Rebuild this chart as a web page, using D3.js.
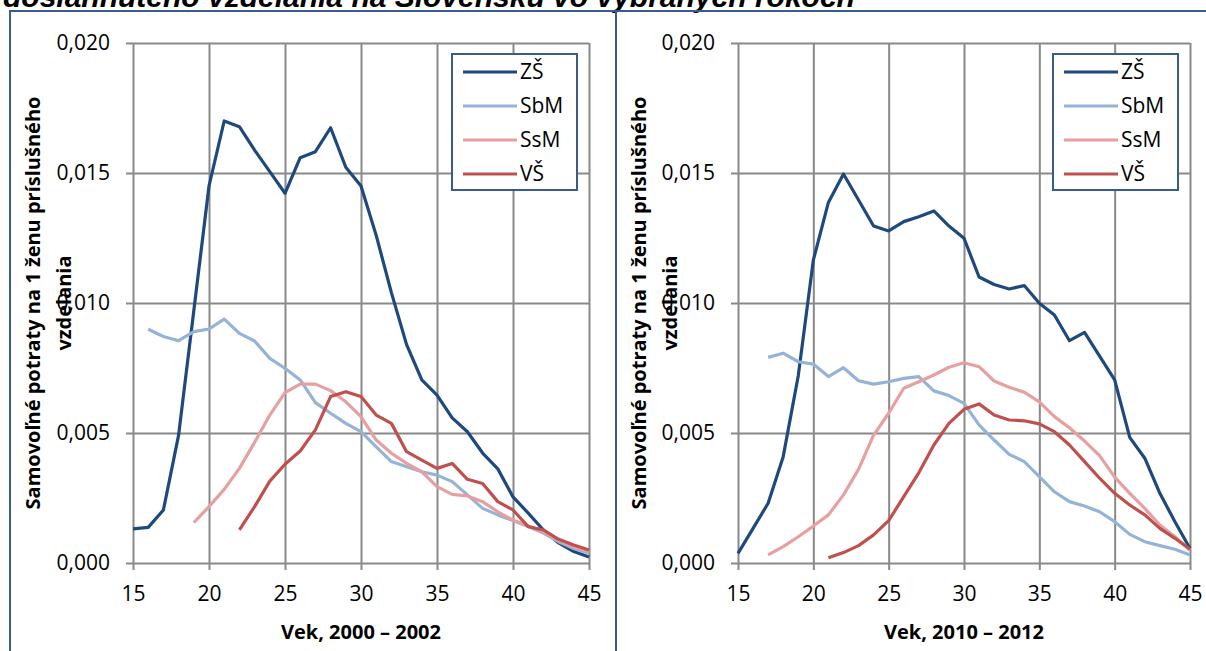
<!DOCTYPE html>
<html>
<head>
<meta charset="utf-8">
<script src="https://cdn.jsdelivr.net/npm/d3@7"></script>
<style>
body { margin: 0; background: #fff; }
text { font-family: "Open Sans", sans-serif; fill: #000; }
</style>
</head>
<body>
<svg id="chart" width="1206" height="651"></svg>
<script>
// vek (x categories)
const ages = [15,16,17,18,19,20,21,22,23,24,25,26,27,28,29,30,31,32,33,34,35,36,37,38,39,40,41,42,43,44,45];
const seriesNames = ['ZŠ', 'SbM', 'SsM', 'VŠ'];
const yTicks = [0, 0.005, 0.010, 0.015, 0.020];
const xTicks = [15, 20, 25, 30, 35, 40, 45];

// 2000 - 2002
const zs2000 = [0.00131,0.00137,0.00204,0.00492,0.0097,0.0145,0.0170,0.01678,0.01588,0.01505,0.01422,0.01559,0.01582,0.01674,0.01522,0.0145,0.0126,0.0104,0.0084,0.00704,0.00646,0.00558,0.00505,0.00423,0.00362,0.00254,0.00192,0.00127,0.00077,0.00044,0.00023];
const sbm2000 = [null,0.00899,0.00871,0.00855,0.0089,0.0090,0.00938,0.00883,0.00854,0.00787,0.00749,0.00704,0.00617,0.00576,0.00537,0.00505,0.00447,0.0039,0.0037,0.00351,0.00338,0.00313,0.00262,0.0021,0.00185,0.00163,0.0014,0.00115,0.00082,0.00056,0.00038];
const ssm2000 = [null,null,null,null,0.00155,0.00217,0.00283,0.00364,0.00464,0.00569,0.00655,0.00688,0.00688,0.00663,0.0062,0.00563,0.00473,0.00422,0.00383,0.00351,0.00294,0.00264,0.00258,0.00236,0.00197,0.00165,0.00142,0.0012,0.00088,0.00063,0.00043];
const vs2000 = [null,null,null,null,null,null,null,0.00127,0.00217,0.00315,0.0038,0.00431,0.00512,0.0064,0.00659,0.0064,0.00569,0.00537,0.00428,0.00396,0.00364,0.00383,0.00322,0.00306,0.00236,0.00204,0.0014,0.00127,0.00091,0.00069,0.0005];

// 2010 - 2012
const zs2010 = [0.00037,0.00133,0.0023,0.00409,0.0072,0.01165,0.01387,0.01496,0.01396,0.01296,0.01277,0.01313,0.01332,0.01354,0.01296,0.01249,0.011,0.01071,0.01054,0.01067,0.00999,0.00954,0.00855,0.00887,0.00796,0.00704,0.00483,0.00403,0.00268,0.00159,0.00056];
const sbm2010 = [null,null,0.00791,0.00807,0.00774,0.00765,0.00717,0.00751,0.00701,0.00688,0.00697,0.0071,0.00717,0.00662,0.00644,0.00614,0.00531,0.00473,0.00418,0.0039,0.00332,0.00274,0.00236,0.00219,0.00197,0.00159,0.0011,0.00082,0.00067,0.00053,0.00031];
const ssm2010 = [null,null,0.00031,0.00063,0.00101,0.00142,0.00185,0.00262,0.0036,0.00492,0.00576,0.00672,0.00697,0.00723,0.00753,0.0077,0.00755,0.007,0.00676,0.00657,0.0062,0.00563,0.0052,0.00469,0.00413,0.0033,0.00268,0.0021,0.00146,0.00101,0.0005];
const vs2010 = [null,null,null,null,null,null,0.0002,0.0004,0.00067,0.00108,0.00163,0.00255,0.00347,0.00454,0.00537,0.00591,0.00612,0.00569,0.0055,0.00547,0.00535,0.00505,0.00454,0.0039,0.00326,0.00268,0.00223,0.00185,0.00133,0.00095,0.00053];

const colors = ['#1f497d', '#95b3d7', '#e6a0a0', '#c0504d'];
const frame = '#385d8a';
const gridColor = '#898989';

const svg = d3.select('#chart');

// title (cut at top edge, as in the source)
svg.append('text')
    .attr('x', 3).attr('y', 7)
    .style('font-family', '"Liberation Sans", Arial, sans-serif')
    .style('font-weight', 'bold').style('font-style', 'italic')
    .style('font-size', '30px')
    .text('dosiahnutého vzdelania na Slovensku vo vybraných rokoch');

// panel frames
svg.append('line').attr('x1', 9).attr('x2', 1206).attr('y1', 11).attr('y2', 11)
    .attr('stroke', frame).attr('stroke-width', 2);
svg.append('line').attr('x1', 10).attr('x2', 10).attr('y1', 11).attr('y2', 651)
    .attr('stroke', frame).attr('stroke-width', 2);
svg.append('line').attr('x1', 616).attr('x2', 616).attr('y1', 11).attr('y2', 651)
    .attr('stroke', frame).attr('stroke-width', 2);

function drawPanel(opts) {
    var x = d3.scaleLinear().domain([15, 45]).range([opts.left, opts.right]);
    var y = d3.scaleLinear().domain([0, 0.02]).range([563, 43]);
    var w = opts.right - opts.left;
    var g = svg.append('g');

    // y grid + labels
    var ya = g.append('g')
        .attr('transform', 'translate(' + opts.left + ',0)')
        .call(d3.axisLeft(y).tickValues(yTicks).tickSize(-w).tickPadding(23)
            .tickFormat(function(d){ return d3.format('.3f')(d).replace('.', ','); }));
    ya.select('.domain').remove();
    ya.selectAll('line').attr('x1', -7).attr('stroke', gridColor).attr('stroke-width', 2);
    ya.selectAll('text').style('font-size', '21px').style('font-family', '"Open Sans", sans-serif');

    // x grid + labels
    var xa = g.append('g')
        .attr('transform', 'translate(0,563)')
        .call(d3.axisBottom(x).tickValues(xTicks).tickSize(-520).tickPadding(23));
    xa.select('.domain').remove();
    xa.selectAll('line').attr('y1', 7).attr('stroke', gridColor).attr('stroke-width', 2);
    xa.selectAll('text').style('font-size', '21px').style('font-family', '"Open Sans", sans-serif');

    // lines
    var line = d3.line()
        .defined(function(d){ return d[1] != null; })
        .x(function(d){ return x(d[0]); })
        .y(function(d){ return y(d[1]); });
    opts.series.forEach(function(s, i) {
        g.append('path')
            .datum(ages.map(function(a, j){ return [a, s[j]]; }))
            .attr('fill', 'none')
            .attr('stroke', colors[i])
            .attr('stroke-width', 3.2)
            .attr('stroke-linejoin', 'round')
            .attr('d', line);
    });

    // axis titles
    g.append('text')
        .attr('x', (opts.left + opts.right) / 2).attr('y', 639)
        .attr('text-anchor', 'middle')
        .style('font-weight', 'bold').style('font-size', '20px')
        .text(opts.xTitle);
    var yt = g.append('text')
        .attr('transform', 'translate(' + opts.yTitleX + ',303) rotate(-90)')
        .attr('text-anchor', 'middle')
        .style('font-weight', 'bold').style('font-size', '20px');
    yt.append('tspan').attr('x', 0).attr('y', 0).text('Samovoľné potraty na 1 ženu príslušného');
    yt.append('tspan').attr('x', 0).attr('y', 31).text('vzdelania');

    // legend
    var lg = g.append('g').attr('transform', 'translate(' + (opts.right - 137) + ',54)');
    lg.append('rect').attr('width', 125).attr('height', 136)
        .attr('fill', '#fff').attr('stroke', frame).attr('stroke-width', 2);
    seriesNames.forEach(function(n, i) {
        lg.append('line').attr('x1', 11).attr('x2', 65)
            .attr('y1', 18 + i * 34).attr('y2', 18 + i * 34)
            .attr('stroke', colors[i]).attr('stroke-width', 3.2);
        lg.append('text').attr('x', 68).attr('y', 18 + i * 34).attr('dy', '0.35em')
            .style('font-size', '21px').text(n);
    });
}

drawPanel({ left: 133, right: 589, yTitleX: 40, xTitle: 'Vek, 2000 – 2002', series: [zs2000, sbm2000, ssm2000, vs2000] });
drawPanel({ left: 738, right: 1190, yTitleX: 646, xTitle: 'Vek, 2010 – 2012', series: [zs2010, sbm2010, ssm2010, vs2010] });
</script>
</body>
</html>
